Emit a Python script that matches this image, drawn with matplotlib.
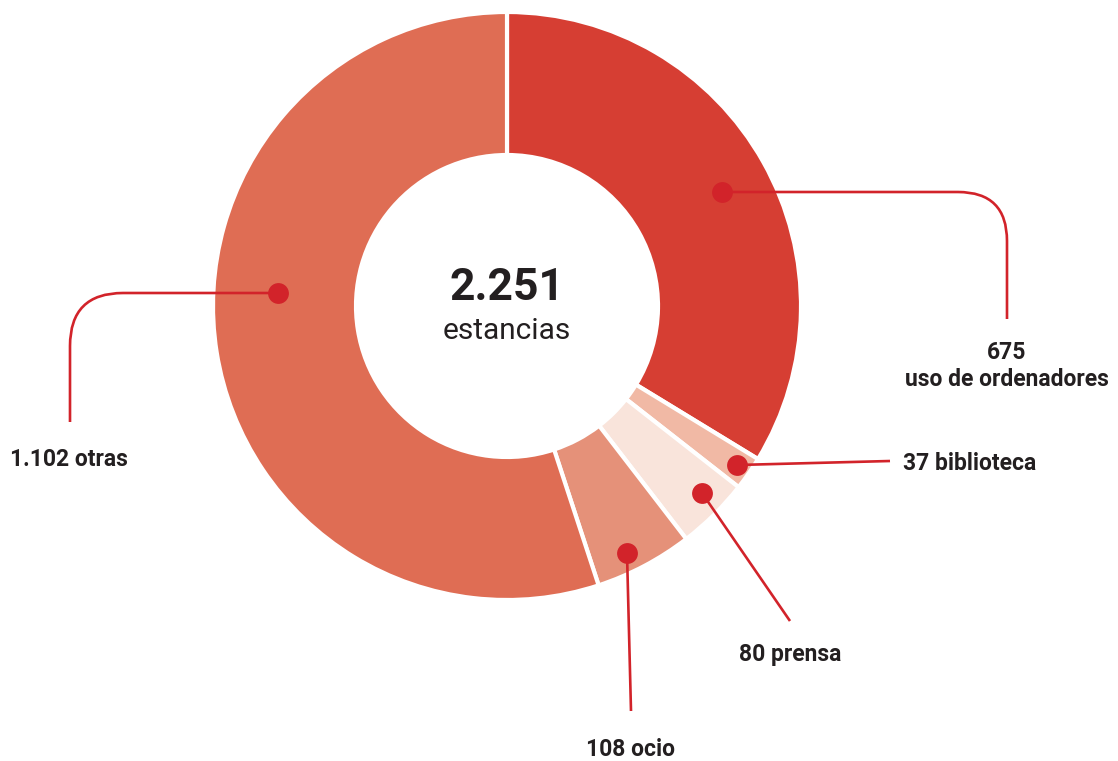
import matplotlib
matplotlib.use("Agg")
import matplotlib.pyplot as plt
from matplotlib.path import Path
from matplotlib.patches import PathPatch

W, H = 1118, 761

# slices clockwise from the top
labels = ["675\nuso de ordenadores", "37 biblioteca", "80 prensa",
          "108 ocio", "1.102 otras"]
values = [675, 37, 80, 108, 1102]
colors = ["#D63E33", "#F1B9A5", "#F9E4DB", "#E59179", "#DF6D54"]
total_label = "2.251"
unit_label = "estancias"

RED = "#D2232A"
INK = "#231F20"
FONT = ["Roboto", "DejaVu Sans"]

fig = plt.figure(figsize=(W / 100, H / 100), dpi=100)
ax = fig.add_axes([0, 0, 1, 1])

cx, cy = 507, H - 306
R, w = 294, 143
ax.pie(values, colors=colors, startangle=90, counterclock=False,
       radius=R, center=(cx, cy),
       wedgeprops=dict(width=w, edgecolor="white", linewidth=3))
ax.set_xlim(0, W)
ax.set_ylim(0, H)
ax.set_aspect("equal")
ax.axis("off")


def py(y):
    return H - y


def leader(pts, codes):
    path = Path([(x, py(y)) for x, y in pts], codes)
    ax.add_patch(PathPatch(path, fill=False, edgecolor=RED, lw=1.9,
                           capstyle="butt", zorder=3))
    x0, y0 = pts[0]
    ax.plot(x0, py(y0), "o", ms=15, color=RED, mec="none", zorder=4)


M, L, C = Path.MOVETO, Path.LINETO, Path.CURVE3
# uso de ordenadores
leader([(722, 192), (958, 192), (1007, 192), (1007, 241), (1007, 319)],
       [M, L, C, C, L])
# otras
leader([(278, 293), (123, 293), (70, 293), (70, 346), (70, 422)],
       [M, L, C, C, L])
# biblioteca
leader([(737, 465), (890, 461)], [M, L])
# prensa
leader([(702, 493), (790, 621)], [M, L])
# ocio
leader([(627, 553), (631, 711)], [M, L])

tk = dict(color=INK, family=FONT, fontweight="bold", fontsize=16.5)
ax.text(1007, py(366), labels[0], ha="center", va="center",
        linespacing=1.2, **tk)
ax.text(903, py(464), labels[1], ha="left", va="center", **tk)
ax.text(790, py(654), labels[2], ha="center", va="center", **tk)
ax.text(630, py(749), labels[3], ha="center", va="center", **tk)
ax.text(10, py(459), labels[4], ha="left", va="center", **tk)

ax.text(cx, py(288), total_label, ha="center", va="center", color=INK,
        family=FONT, fontweight="bold", fontsize=32)
ax.text(cx, py(331), unit_label, ha="center", va="center", color=INK,
        family=FONT, fontsize=21.5)

fig.savefig("out.png", dpi=100, facecolor="white")
